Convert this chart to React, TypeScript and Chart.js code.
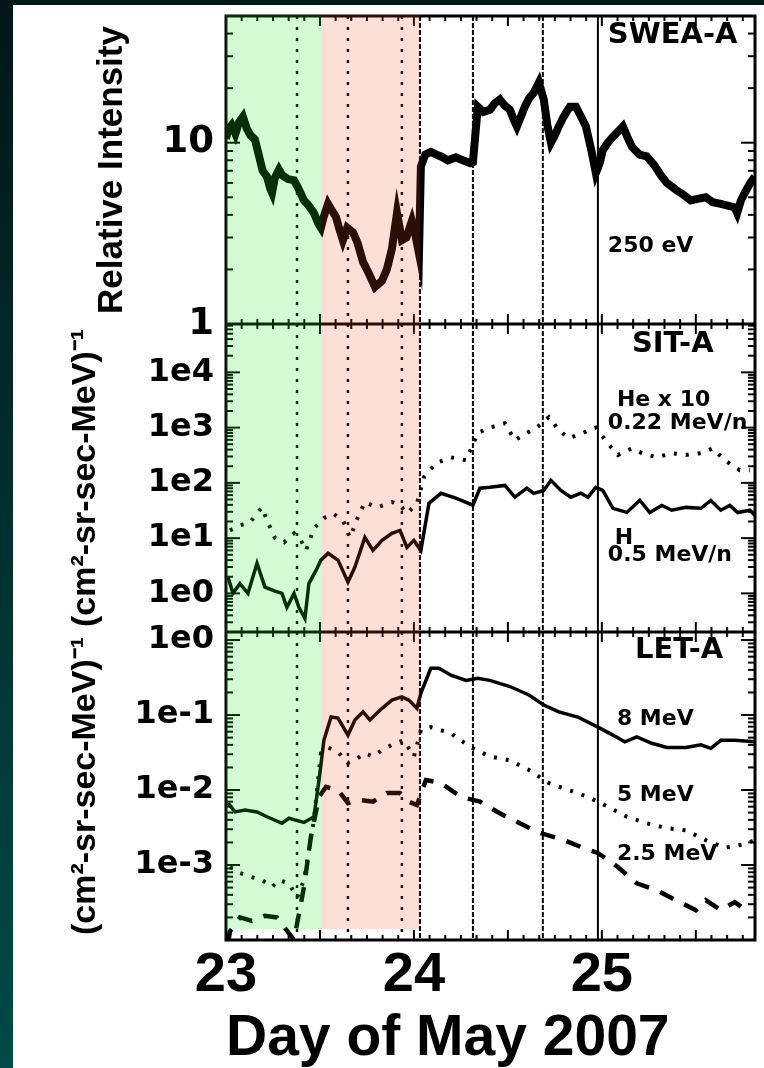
import React, { useEffect, useRef } from 'react';
import { Chart, registerables } from 'chart.js';

Chart.register(...registerables);

// ---------- x axis (day of May 2007) ----------
const dayTicks = [23, 24, 25];
const dayMin = 23;
const dayMax = 25.815;

// ---------- decade ticks for each panel ----------
const sweaDecades = [1, 10];
const sitDecades = [1, 10, 100, 1000, 10000];
const letDecades = [0.001, 0.01, 0.1, 1];

// ---------- event markers / intervals (day) ----------
const markerDotted = [23.378, 23.649, 23.936];
const markerDashed = [24.032, 24.314, 24.686];
const markerSolid = [24.979];
const greenSpan = [23.0, 23.505];
const pinkSpan = [23.505, 24.032];

// ---------- SWEA-A 250 eV relative intensity ----------
const sweaDays = [23.0, 23.011, 23.03, 23.05, 23.07, 23.09, 23.11, 23.13, 23.154, 23.175, 23.195, 23.218, 23.235, 23.245, 23.26, 23.282, 23.3, 23.33, 23.362, 23.385, 23.415, 23.44, 23.468, 23.49, 23.505, 23.52, 23.543, 23.565, 23.585, 23.605, 23.622, 23.645, 23.676, 23.7, 23.729, 23.76, 23.793, 23.83, 23.856, 23.883, 23.91, 23.936, 23.96, 23.989, 24.005, 24.027, 24.037, 24.06, 24.09, 24.12, 24.144, 24.18, 24.223, 24.26, 24.3, 24.314, 24.34, 24.37, 24.404, 24.43, 24.457, 24.484, 24.511, 24.53, 24.548, 24.57, 24.59, 24.612, 24.638, 24.665, 24.691, 24.71, 24.729, 24.75, 24.771, 24.79, 24.809, 24.83, 24.862, 24.888, 24.915, 24.945, 24.968, 24.99, 25.005, 25.032, 25.059, 25.085, 25.112, 25.135, 25.16, 25.2, 25.239, 25.28, 25.319, 25.346, 25.394, 25.43, 25.473, 25.51, 25.553, 25.59, 25.633, 25.67, 25.707, 25.72, 25.74, 25.761, 25.79, 25.814];
const sweaVals = [10.5, 11.8, 12.5, 11.2, 13.0, 13.9, 12.0, 11.0, 10.4, 8.5, 7.0, 6.5, 5.6, 5.3, 6.4, 7.1, 6.6, 6.3, 6.2, 5.6, 4.8, 4.5, 4.1, 3.6, 3.4, 3.9, 4.6, 4.2, 3.9, 3.3, 2.9, 3.4, 3.2, 2.8, 2.2, 1.9, 1.6, 1.73, 2.0, 2.6, 4.1, 2.9, 3.0, 3.7, 3.2, 2.45, 7.4, 8.6, 8.9, 8.6, 8.4, 8.0, 8.3, 8.0, 7.7, 7.8, 15.8, 14.8, 15.2, 16.5, 17.3, 16.0, 15.2, 13.5, 12.3, 14.0, 15.8, 17.5, 18.9, 21.5, 17.3, 12.5, 10.0, 11.0, 12.3, 13.5, 14.6, 15.8, 15.8, 14.0, 12.3, 9.0, 6.8, 7.8, 9.1, 10.0, 10.8, 11.5, 12.3, 10.8, 9.5, 8.6, 8.4, 7.5, 6.5, 6.0, 5.5, 5.2, 4.8, 4.9, 5.0, 4.7, 4.6, 4.5, 4.4, 4.1, 4.8, 5.3, 6.0, 6.5];

// ---------- SIT-A H 0.5 MeV/n ----------
const sitHDays = [23.011, 23.037, 23.074, 23.117, 23.165, 23.207, 23.261, 23.298, 23.324, 23.362, 23.388, 23.42, 23.441, 23.479, 23.505, 23.543, 23.596, 23.649, 23.686, 23.739, 23.782, 23.83, 23.883, 23.926, 23.963, 24.0, 24.037, 24.08, 24.144, 24.223, 24.314, 24.351, 24.404, 24.484, 24.537, 24.601, 24.638, 24.691, 24.729, 24.782, 24.835, 24.888, 24.926, 24.968, 25.005, 25.059, 25.133, 25.202, 25.255, 25.319, 25.372, 25.447, 25.527, 25.58, 25.633, 25.681, 25.723, 25.787, 25.814];
const sitHVals = [1.95, 1.0, 1.5, 1.0, 3.5, 1.3, 1.1, 1.0, 0.56, 1.0, 0.56, 0.35, 1.5, 2.6, 4.0, 5.3, 4.0, 1.6, 3.0, 10.3, 6.0, 9.1, 12.2, 13.8, 6.8, 9.1, 6.0, 42.7, 64.7, 52.8, 39.4, 80, 83, 90, 55, 80, 64.7, 73, 111, 73, 55, 65, 55, 83, 73, 34.6, 29.2, 48.5, 29, 39, 32, 36, 34.6, 48, 32, 39, 29, 32, 26];

// ---------- SIT-A He x 10, 0.22 MeV/n ----------
const sitHeDays = [23.021, 23.074, 23.128, 23.191, 23.218, 23.261, 23.309, 23.362, 23.399, 23.426, 23.468, 23.521, 23.569, 23.622, 23.66, 23.702, 23.739, 23.803, 23.883, 23.926, 23.963, 24.016, 24.053, 24.117, 24.197, 24.277, 24.34, 24.404, 24.484, 24.537, 24.601, 24.654, 24.718, 24.771, 24.824, 24.899, 24.968, 25.032, 25.085, 25.16, 25.213, 25.293, 25.372, 25.447, 25.527, 25.59, 25.654, 25.734, 25.787];
const sitHeVals = [13.8, 17, 19.4, 36, 21, 10, 8.4, 12.2, 9.1, 6, 15, 23, 28, 21, 10.3, 24, 45, 36, 45, 39, 28, 42, 126, 227, 290, 257, 800, 1000, 1200, 590, 800, 1000, 1550, 900, 640, 800, 1000, 520, 320, 420, 345, 290, 345, 320, 345, 420, 257, 170, 170];

// ---------- LET-A 8 MeV ----------
const let8Days = [23.011, 23.048, 23.101, 23.165, 23.218, 23.298, 23.335, 23.415, 23.468, 23.495, 23.521, 23.559, 23.596, 23.649, 23.686, 23.729, 23.766, 23.819, 23.883, 23.936, 23.973, 24.016, 24.037, 24.09, 24.133, 24.197, 24.277, 24.34, 24.404, 24.511, 24.612, 24.691, 24.771, 24.872, 24.979, 25.059, 25.122, 25.186, 25.266, 25.346, 25.447, 25.527, 25.58, 25.633, 25.707, 25.814];
const let8Vals = [6.7e-3, 5.1e-3, 5.4e-3, 5.1e-3, 4.4e-3, 3.6e-3, 4.2e-3, 3.7e-3, 4.4e-3, 1.36e-2, 4.6e-2, 9.4e-2, 9.1e-2, 5.4e-2, 8.6e-2, 0.11, 8.6e-2, 0.116, 0.158, 0.175, 0.158, 0.123, 0.196, 0.42, 0.42, 0.34, 0.29, 0.31, 0.29, 0.24, 0.185, 0.136, 0.11, 0.094, 0.069, 0.054, 0.044, 0.051, 0.042, 0.037, 0.037, 0.04, 0.036, 0.046, 0.046, 0.044];

// ---------- LET-A 5 MeV ----------
const let5Days = [23.021, 23.074, 23.128, 23.191, 23.245, 23.282, 23.335, 23.378, 23.415, 23.468, 23.505, 23.543, 23.596, 23.649, 23.686, 23.739, 23.782, 23.83, 23.899, 23.947, 24.0, 24.037, 24.09, 24.197, 24.303, 24.404, 24.511, 24.612, 24.718, 24.824, 24.926, 25.032, 25.133, 25.239, 25.346, 25.447, 25.553, 25.654, 25.761, 25.814];
const let5Vals = [9.4e-4, 7.8e-4, 7.0e-4, 6.3e-4, 5.1e-4, 6.3e-4, 5.7e-4, 3.7e-4, 6.3e-4, 4.0e-3, 3.1e-2, 3.7e-2, 3.2e-2, 2.3e-2, 2.5e-2, 3.1e-2, 2.8e-2, 3.4e-2, 4.2e-2, 4.6e-2, 2.8e-2, 6.3e-2, 6.9e-2, 5.7e-2, 3.7e-2, 2.8e-2, 2.5e-2, 1.85e-2, 1.24e-2, 1.0e-2, 8.1e-3, 6.0e-3, 4.4e-3, 3.6e-3, 3.1e-3, 2.9e-3, 2.15e-3, 1.7e-3, 1.9e-3, 2.15e-3];

// ---------- LET-A 2.5 MeV ----------
const let25Days = [23.011, 23.021, 23.074, 23.138, 23.207, 23.271, 23.362, 23.415, 23.452, 23.495, 23.532, 23.596, 23.649, 23.702, 23.782, 23.856, 23.926, 23.973, 24.016, 24.064, 24.144, 24.25, 24.351, 24.457, 24.564, 24.665, 24.798, 24.899, 24.979, 25.085, 25.186, 25.293, 25.394, 25.5, 25.553, 25.633, 25.707, 25.787];
const let25Vals = [9e-5, 1.3e-4, 2.0e-4, 1.8e-4, 2.1e-4, 2.0e-4, 1.0e-4, 5.1e-4, 2.4e-3, 8.1e-3, 1.1e-2, 1.0e-2, 6.7e-3, 7.4e-3, 7.0e-3, 9.1e-3, 9.1e-3, 7.0e-3, 6.3e-3, 1.36e-2, 1.24e-2, 8.1e-3, 7.0e-3, 4.9e-3, 3.6e-3, 2.7e-3, 2.15e-3, 1.7e-3, 1.45e-3, 9.4e-4, 5.7e-4, 4.6e-4, 3.4e-4, 2.5e-4, 3.4e-4, 2.5e-4, 3.2e-4, 2.3e-4];

// ---------- in-panel labels ----------
const labelTexts = ['SWEA-A', '250 eV', 'SIT-A', 'He x 10', '0.22 MeV/n', 'H', '0.5 MeV/n', 'LET-A', '8 MeV', '5 MeV', '2.5 MeV'];
const labelDays = [25.032, 25.032, 25.16, 25.08, 25.032, 25.069, 25.032, 25.176, 25.08, 25.08, 25.08];
const labelVals = [39, 2.7, 3.2e4, 3130, 1200, 9.9, 4.9, 0.735, 0.0885, 8.6e-3, 1.4e-3];
const labelAxes = ['ySWEA', 'ySWEA', 'ySIT', 'ySIT', 'ySIT', 'ySIT', 'ySIT', 'yLET', 'yLET', 'yLET', 'yLET'];

const pts = (xs: number[], ys: number[]) => xs.map((x, i) => ({ x, y: ys[i] }));

const panelPlugin = {
  id: 'panelDecor',
  beforeDatasetsDraw(chart: any) {
    const { ctx, chartArea: a, scales } = chart;
    const x = scales.x;
    ctx.save();
    ctx.strokeStyle = '#000';
    const vline = (d: number, dash: number[], w: number) => {
      const px = x.getPixelForValue(d);
      ctx.setLineDash(dash);
      ctx.lineWidth = w;
      ctx.beginPath();
      ctx.moveTo(px, a.top);
      ctx.lineTo(px, a.bottom);
      ctx.stroke();
    };
    markerDotted.forEach((d) => vline(d, [3, 8], 2.5));
    markerDashed.forEach((d) => vline(d, [5, 2], 2));
    markerSolid.forEach((d) => vline(d, [], 2));
    ctx.setLineDash([]);

    const seg = (x0: number, y0: number, x1: number, y1: number) => {
      ctx.beginPath();
      ctx.moveTo(x0, y0);
      ctx.lineTo(x1, y1);
      ctx.stroke();
    };
    ['ySWEA', 'ySIT', 'yLET'].forEach((id) => {
      const s = scales[id];
      ctx.lineWidth = 2;
      const lo = Math.floor(Math.log10(s.min));
      const hi = Math.ceil(Math.log10(s.max));
      for (let e = lo; e <= hi; e++) {
        for (let m = 1; m <= 9; m++) {
          const v = m * Math.pow(10, e);
          if (v < s.min || v > s.max) continue;
          const py = s.getPixelForValue(v);
          const len = m === 1 ? 14 : 7;
          seg(a.left, py, a.left + len, py);
          seg(a.right, py, a.right - len, py);
        }
      }
      for (let k = 0; k <= 34; k++) {
        const px = x.getPixelForValue(dayMin + k / 12);
        if (px > a.right) continue;
        const len = k % 6 === 0 ? 10 : 5;
        seg(px, s.top, px, s.top + len);
        seg(px, s.bottom, px, s.bottom - len);
      }
    });
    ctx.lineWidth = 3;
    ctx.strokeRect(a.left, a.top, a.right - a.left, a.bottom - a.top);
    [scales.ySIT.top, scales.yLET.top].forEach((py: number) => seg(a.left, py, a.right, py));
    ctx.restore();
  },
  afterDatasetsDraw(chart: any) {
    const { ctx, chartArea: a, scales } = chart;
    const x = scales.x;
    const yb = scales.yLET.getPixelForValue(1.4e-4);
    ctx.save();
    const band = (span: number[], color: string) => {
      const x0 = x.getPixelForValue(span[0]);
      const x1 = x.getPixelForValue(span[1]);
      ctx.fillStyle = color;
      ctx.fillRect(x0, a.top - 1.5, x1 - x0, yb - a.top + 1.5);
    };
    band(greenSpan, 'rgba(40,230,40,0.2)');
    band(pinkSpan, 'rgba(240,80,30,0.18)');
    ctx.restore();
  },
  afterDraw(chart: any) {
    const { ctx, scales } = chart;
    ctx.save();
    ctx.fillStyle = '#000';
    ctx.textAlign = 'left';
    ctx.textBaseline = 'middle';
    labelTexts.forEach((t, i) => {
      const size = t.endsWith('-A') ? 29 : 22;
      ctx.font = `bold ${size}px "DejaVu Sans"`;
      const px = scales.x.getPixelForValue(labelDays[i]);
      const py = scales[labelAxes[i]].getPixelForValue(labelVals[i]);
      ctx.fillText(t, px, py);
    });
    ctx.restore();
  },
};

const fixY = (s: any) => {
  s.width = 213;
  s.paddingTop = 0;
  s.paddingBottom = 0;
};

const yScale = (
  min: number,
  max: number,
  decades: number[],
  title: string,
  titleSize: number,
  titlePad: number,
  tickSize: number,
  fmt: (v: number) => string
) => ({
  type: 'logarithmic',
  position: 'left',
  stack: 'panels',
  stackWeight: 1,
  min,
  max,
  grid: { display: false, drawTicks: false },
  border: { display: false },
  afterBuildTicks: (s: any) => {
    s.ticks = decades.map((v) => ({ value: v }));
  },
  afterFit: fixY,
  ticks: {
    autoSkip: false,
    padding: 12,
    color: '#000',
    font: { family: 'DejaVu Sans', weight: 'bold', size: tickSize },
    callback: (v: any) => fmt(Number(v)),
  },
  title: {
    display: true,
    text: title,
    color: '#000',
    font: { family: 'Liberation Sans', weight: 'bold', size: titleSize, lineHeight: 1.2 },
    padding: { top: titlePad, bottom: 0 },
  },
});

const expFmt = (v: number) => '1e' + Math.round(Math.log10(v));

export default function App() {
  const ref = useRef<HTMLCanvasElement | null>(null);

  useEffect(() => {
    if (!ref.current) return;
    const chart = new Chart(ref.current, {
      type: 'line',
      data: {
        datasets: [
          { data: pts(sweaDays, sweaVals), yAxisID: 'ySWEA', borderColor: '#000', borderWidth: 8, borderJoinStyle: 'miter' },
          { data: pts(sitHDays, sitHVals), yAxisID: 'ySIT', borderColor: '#000', borderWidth: 3.5 },
          { data: pts(sitHeDays, sitHeVals), yAxisID: 'ySIT', borderColor: '#000', borderWidth: 4, borderDash: [3, 9] },
          { data: pts(let8Days, let8Vals), yAxisID: 'yLET', borderColor: '#000', borderWidth: 3.5 },
          { data: pts(let5Days, let5Vals), yAxisID: 'yLET', borderColor: '#000', borderWidth: 4, borderDash: [3, 9] },
          { data: pts(let25Days, let25Vals), yAxisID: 'yLET', borderColor: '#000', borderWidth: 4.5, borderDash: [15, 12] },
        ] as any,
      },
      options: {
        animation: false,
        responsive: false,
        maintainAspectRatio: false,
        layout: { padding: { top: 11, right: 9, left: 0, bottom: 0 } },
        plugins: { legend: { display: false }, tooltip: { enabled: false } },
        elements: { point: { radius: 0 }, line: { tension: 0, fill: false } },
        scales: {
          x: {
            type: 'linear',
            position: 'bottom',
            min: dayMin,
            max: dayMax,
            grid: { display: false, drawTicks: false },
            border: { display: false },
            afterBuildTicks: (s: any) => {
              s.ticks = dayTicks.map((v) => ({ value: v }));
            },
            afterFit: (s: any) => {
              s.height = 128;
              s.paddingLeft = 0;
              s.paddingRight = 0;
            },
            ticks: {
              autoSkip: false,
              maxRotation: 0,
              padding: 2,
              color: '#000',
              font: { family: 'Liberation Sans', weight: 'bold', size: 56 },
              callback: (v: any) => String(v),
            },
            title: {
              display: true,
              align: 'start',
              text: 'Day of May 2007',
              color: '#000',
              font: { family: 'Liberation Sans', weight: 'bold', size: 57, lineHeight: 1 },
              padding: { top: 0, bottom: 0 },
            },
          },
          yLET: yScale(1e-4, 1.28, letDecades, '(cm²-sr-sec-MeV)⁻¹', 34, 52, 32, expFmt),
          ySIT: yScale(0.2, 7.5e4, sitDecades, '(cm²-sr-sec-MeV)⁻¹', 34, 52, 32, expFmt),
          ySWEA: yScale(1, 50, sweaDecades, 'Relative Intensity', 35, 78, 37, (v) => String(v)),
        } as any,
      },
      plugins: [panelPlugin],
    });
    return () => chart.destroy();
  }, []);

  return (
    <div
      style={{
        position: 'fixed',
        left: 0,
        top: 0,
        width: 764,
        height: 1068,
        background: 'linear-gradient(180deg, #001716 0%, #00302f 50%, #014a47 100%)',
        overflow: 'hidden',
      }}
    >
      <div style={{ position: 'absolute', left: 13, top: 5, width: 751, height: 1063, background: '#fff' }}>
        <canvas ref={ref} width={751} height={1063} style={{ display: 'block', width: 751, height: 1063 }} />
      </div>
    </div>
  );
}
